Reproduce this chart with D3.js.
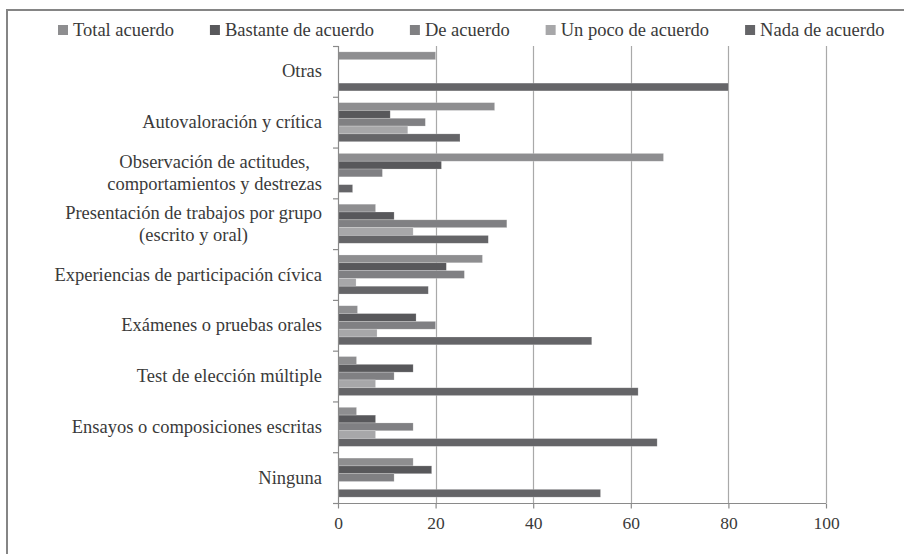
<!DOCTYPE html>
<html>
<head>
<meta charset="utf-8">
<script src="https://cdn.jsdelivr.net/npm/d3@7"></script>
<style>
  html, body { margin: 0; padding: 0; background: #ffffff; }
  svg { display: block; }
  text { font-family: "Liberation Serif", "Times New Roman", serif; fill: #3a3a3a; }
</style>
</head>
<body>
<svg id="chart" width="904" height="554"></svg>
<script>
// Categories, listed top to bottom as they appear in the chart
const categories = [
  "Otras",
  "Autovaloración y crítica",
  "Observación de actitudes,\ncomportamientos y destrezas",
  "Presentación de trabajos por grupo\n(escrito y oral)",
  "Experiencias de participación cívica",
  "Exámenes o pruebas orales",
  "Test de elección múltiple",
  "Ensayos o composiciones escritas",
  "Ninguna"
];

const seriesNames = ["Total acuerdo", "Bastante de acuerdo", "De acuerdo", "Un poco de acuerdo", "Nada de acuerdo"];

// Percentages per category (same order as categories)
const totalAcuerdo     = [20, 32.1, 66.7,  7.7, 29.6,  4.0,  3.8,  3.8, 15.4];
const bastanteAcuerdo  = [ 0, 10.7, 21.2, 11.5, 22.2, 16.0, 15.4,  7.7, 19.2];
const deAcuerdo        = [ 0, 17.9,  9.1, 34.6, 25.9, 20.0, 11.5, 15.4, 11.5];
const unPocoAcuerdo    = [ 0, 14.3,  0.0, 15.4,  3.7,  8.0,  7.7,  7.7,  0.0];
const nadaAcuerdo      = [80, 25.0,  3.0, 30.8, 18.5, 52.0, 61.5, 65.4, 53.8];

const xTicks = [0, 20, 40, 60, 80, 100];

const seriesValues = [totalAcuerdo, bastanteAcuerdo, deAcuerdo, unPocoAcuerdo, nadaAcuerdo];
const colors = ["#8e8e90", "#58585b", "#808083", "#a7a7a9", "#656568"];

const svg = d3.select("#chart");

// outer frame
svg.append("rect")
  .attr("x", 7).attr("y", 10)
  .attr("width", 930).attr("height", 560)
  .attr("fill", "none").attr("stroke", "#858585").attr("stroke-width", 2);

const plot = { left: 338, right: 826, top: 46, bottom: 503 };

const x = d3.scaleLinear().domain([0, 100]).range([plot.left, plot.right]);
const y = d3.scaleBand().domain(categories).range([plot.top, plot.bottom]);
const ySub = d3.scaleBand().domain(seriesNames).range([0, y.bandwidth()])
  .paddingInner(0).paddingOuter(0.75);

// vertical gridlines
svg.append("g").selectAll("line")
  .data(xTicks.filter(d => d > 0))
  .join("line")
  .attr("x1", d => Math.round(x(d)) + 0.5).attr("x2", d => Math.round(x(d)) + 0.5)
  .attr("y1", plot.top).attr("y2", plot.bottom)
  .attr("stroke", "#a9a9a9").attr("stroke-width", 1.2);

// bars
const rows = [];
categories.forEach((c, i) => {
  seriesNames.forEach((s, j) => rows.push({ cat: c, series: s, value: seriesValues[j][i], color: colors[j] }));
});

svg.append("g").selectAll("rect")
  .data(rows.filter(d => d.value > 0))
  .join("rect")
  .attr("x", x(0))
  .attr("y", d => y(d.cat) + ySub(d.series))
  .attr("width", d => x(d.value) - x(0))
  .attr("height", ySub.bandwidth())
  .attr("fill", d => d.color)
  .attr("stroke", "rgba(255,255,255,0.35)")
  .attr("stroke-width", 0.6);

// bottom axis
const xAxis = d3.axisBottom(x).tickValues(xTicks).tickSize(5).tickPadding(8);
const gx = svg.append("g").attr("transform", `translate(0,${plot.bottom + 0.5})`).call(xAxis);
gx.select(".domain").attr("stroke", "#8a8a8a").attr("stroke-width", 1.2).attr("d", `M${plot.left},0H${plot.right}`);
gx.selectAll(".tick line").attr("stroke", "#8a8a8a").attr("stroke-width", 1.2);
gx.selectAll(".tick text")
  .attr("font-family", "'Liberation Serif', 'Times New Roman', serif")
  .attr("font-size", 17.5).attr("fill", "#3a3a3a");

// left axis: line with ticks at category boundaries
const gy = svg.append("g");
gy.append("line")
  .attr("x1", plot.left + 0.5).attr("x2", plot.left + 0.5)
  .attr("y1", plot.top).attr("y2", plot.bottom)
  .attr("stroke", "#8a8a8a").attr("stroke-width", 1.2);
const bounds = categories.map(c => y(c)).concat([plot.bottom]);
gy.selectAll("line.tk")
  .data(bounds)
  .join("line").attr("class", "tk")
  .attr("x1", plot.left - 5).attr("x2", plot.left + 0.5)
  .attr("y1", d => d + 0.5).attr("y2", d => d + 0.5)
  .attr("stroke", "#8a8a8a").attr("stroke-width", 1.2);

// category labels: lines centered with each other, block right-aligned near the axis
const lbl = svg.append("g");
const labelRight = 322;
categories.forEach(c => {
  const lines = c.split("\n");
  const cy = y(c) + y.bandwidth() / 2;
  const lh = 22;
  const t = lbl.append("text")
    .attr("text-anchor", "middle")
    .attr("font-size", 18.5);
  const spans = lines.map((ln, k) => t.append("tspan")
    .attr("x", 0)
    .attr("y", cy + (k - (lines.length - 1) / 2) * lh)
    .attr("dy", "0.33em")
    .text(ln));
  const w = d3.max(spans, s => s.node().getComputedTextLength());
  spans.forEach(s => s.attr("x", labelRight - w / 2));
});

// legend
const legend = svg.append("g");
let lx = 58;
seriesNames.forEach((s, j) => {
  legend.append("rect")
    .attr("x", lx).attr("y", 25).attr("width", 10).attr("height", 10)
    .attr("fill", colors[j]);
  const t = legend.append("text")
    .attr("x", lx + 15).attr("y", 30).attr("dy", "0.33em")
    .attr("font-size", 18.5)
    .text(s);
  lx += 15 + t.node().getComputedTextLength() + 36;
});
</script>
</body>
</html>
